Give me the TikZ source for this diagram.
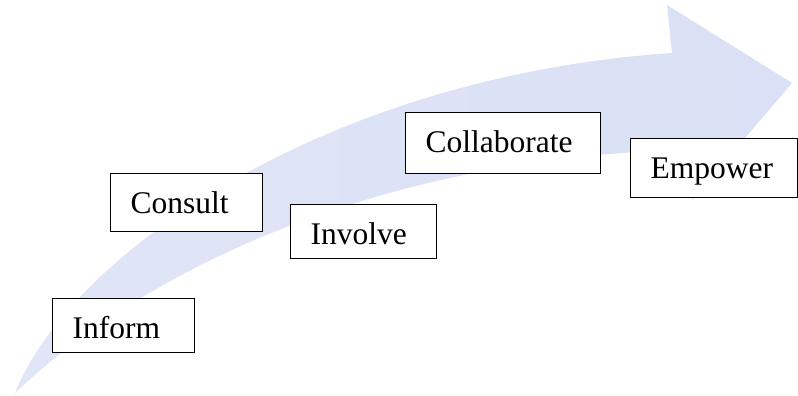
\documentclass[tikz,border=0pt]{standalone}
\usepackage{fontspec}
\setmainfont{Liberation Serif}
\usepackage{tikz}
\usetikzlibrary{positioning}

\definecolor{arrowblue}{RGB}{218,224,245}
\definecolor{arrowlite}{RGB}{224,229,247}

\begin{document}
\begin{tikzpicture}[
    x=1pt, y=1pt,
    stage/.style={draw, line width=1.2pt, fill=white, anchor=north west, align=left, inner xsep=20pt, inner ysep=0pt, text height=40pt, font=\fontsize{31.5pt}{36pt}\selectfont}
]
\useasboundingbox (0,0) rectangle (798,396);

% big curved arrow behind the stages
\shade[left color=arrowlite, right color=arrowblue]
    (15,3) .. controls (72,145) and (330,320) .. (672,343)
    -- (667,391) -- (792,313) -- (692,196) -- (686,246)
    .. controls (420,240) and (170,150) .. (15,3) -- cycle;

\node[stage, text width=102pt, text depth=14pt] (inform) at (52,98) {Inform};
\node[stage, text width=112pt, text depth=18pt] (consult) at (110,223) {Consult};
\node[stage, text width=106pt, text depth=14pt] (involve) at (290,192) {Involve};
\node[stage, text width=155pt, text depth=21pt] (collab) at (405,284) {Collaborate};
\node[stage, text width=127pt, text depth=19pt] (empower) at (630,258) {Empower};
\end{tikzpicture}
\end{document}
